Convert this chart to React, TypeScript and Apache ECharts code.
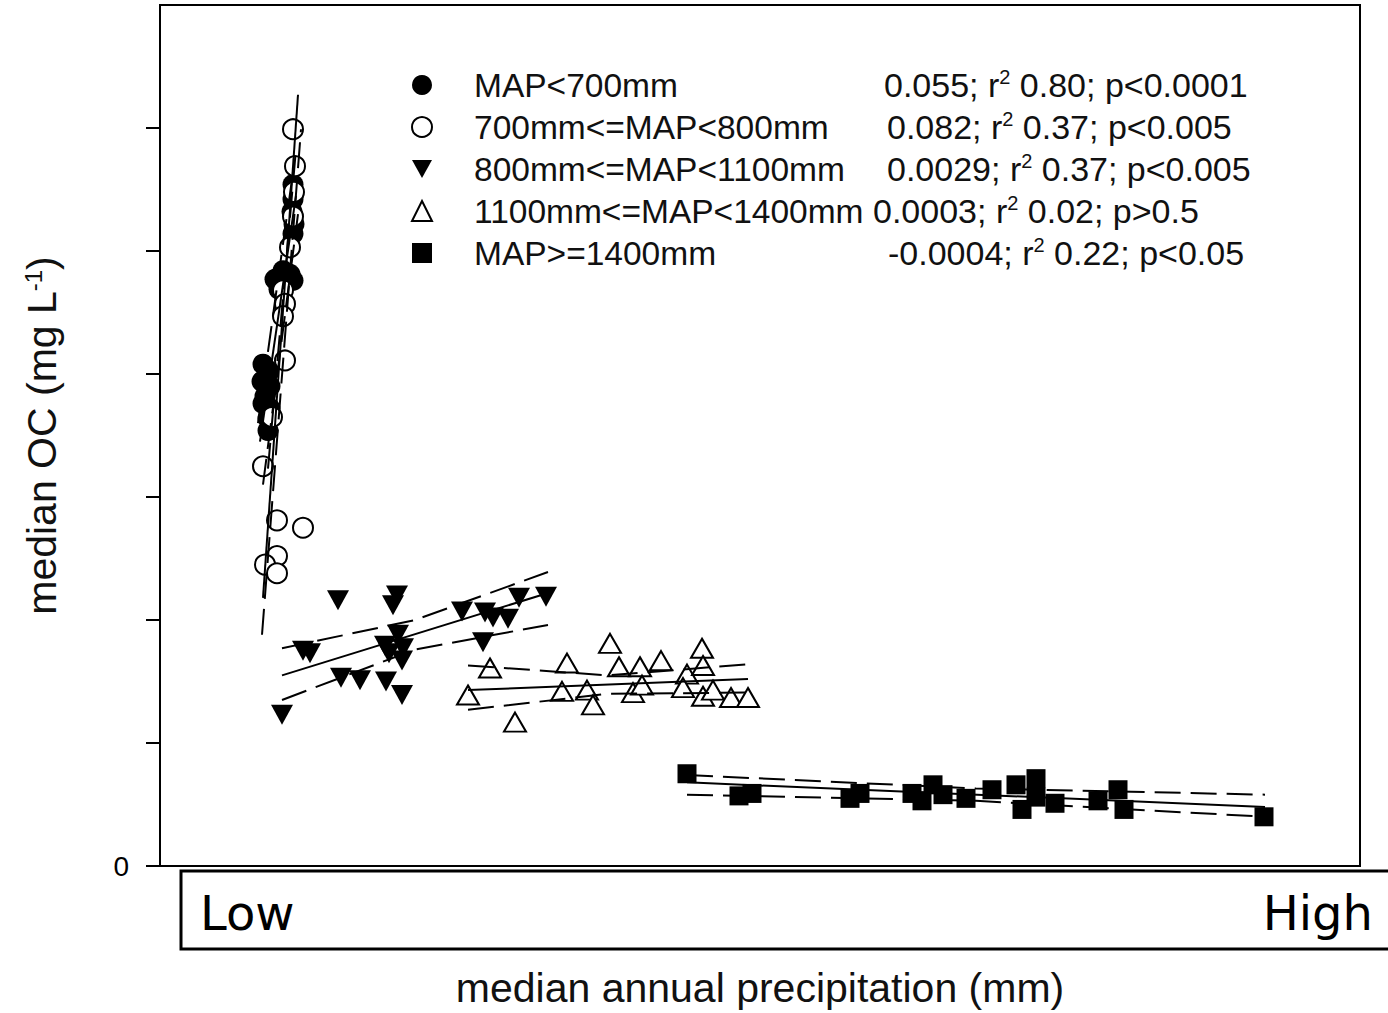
import React, { useEffect, useRef } from 'react';
import * as echarts from 'echarts';

// x: relative position on the (unlabelled) precipitation axis, 0 = Low ... 1200 = High
// y: median OC (tick units)
const mapLt700: number[][] = [
  [133, 5.54], [133, 5.42], [132, 5.32], [134, 5.22], [133, 5.14],
  [115, 4.77], [123, 4.84], [130, 4.81], [133, 4.76], [119, 4.69],
  [103, 4.08], [108, 4.03], [102, 3.94], [110, 3.9], [105, 3.82],
  [103, 3.76], [110, 3.72], [108, 3.64], [108, 3.54],
];
const map700to800: number[][] = [
  [133, 5.99], [135, 5.69], [134, 5.48], [133, 5.28], [130, 5.03],
  [123, 4.68], [125, 4.57], [123, 4.47], [125, 4.11], [112, 3.65],
  [103, 3.25], [117, 2.81], [143, 2.75], [117, 2.52], [105, 2.45], [117, 2.38],
];
const map800to1100: number[][] = [
  [122, 1.23], [178, 2.16], [237, 2.2], [233, 2.12], [143, 1.75], [150, 1.73],
  [181, 1.53], [200, 1.51], [226, 1.5], [242, 1.39], [225, 1.79], [238, 1.88],
  [243, 1.77], [242, 1.67], [229, 1.73], [302, 2.07], [325, 2.06], [333, 2.02],
  [348, 2.01], [359, 2.18], [386, 2.19], [323, 1.82],
];
const map1100to1400: number[][] = [
  [330, 1.61], [308, 1.39], [355, 1.17], [407, 1.65], [402, 1.42], [427, 1.43],
  [433, 1.31], [450, 1.81], [459, 1.62], [480, 1.62], [501, 1.67], [473, 1.41],
  [482, 1.47], [527, 1.56], [523, 1.45], [542, 1.77], [543, 1.63], [543, 1.38],
  [553, 1.43], [571, 1.37], [588, 1.37],
];
const mapGe1400: number[][] = [
  [527, 0.75], [579, 0.57], [592, 0.59], [690, 0.55], [700, 0.59], [752, 0.59],
  [762, 0.53], [773, 0.66], [783, 0.58], [806, 0.55], [832, 0.62], [856, 0.66],
  [862, 0.46], [876, 0.71], [876, 0.56], [895, 0.51], [938, 0.53], [958, 0.62],
  [964, 0.46], [1104, 0.4],
];

// regression lines (solid) and 95% confidence bands (dashed)
const fitLines: { data: number[][]; dashed: boolean }[] = [
  { data: [[100, 3.45], [136, 5.45]], dashed: false },
  { data: [[98, 3.6], [134, 5.7]], dashed: true },
  { data: [[103, 3.1], [138, 5.3]], dashed: true },
  { data: [[103, 2.18], [138, 6.27]], dashed: false },
  { data: [[102, 1.88], [141, 5.99]], dashed: true },
  { data: [[108, 3.23], [136, 5.83]], dashed: true },
  { data: [[122, 1.55], [388, 2.22]], dashed: false },
  { data: [[122, 1.77], [255, 2.0], [388, 2.39]], dashed: true },
  { data: [[122, 1.35], [255, 1.76], [388, 1.96]], dashed: true },
  { data: [[308, 1.43], [588, 1.52]], dashed: false },
  { data: [[308, 1.63], [448, 1.55], [588, 1.64]], dashed: true },
  { data: [[308, 1.27], [448, 1.4], [588, 1.41]], dashed: true },
  { data: [[527, 0.68], [1105, 0.48]], dashed: false },
  { data: [[527, 0.74], [816, 0.63], [1105, 0.58]], dashed: true },
  { data: [[527, 0.58], [816, 0.53], [1105, 0.4]], dashed: true },
];

const seriesNames: string[] = [
  'MAP<700mm',
  '700mm<=MAP<800mm',
  '800mm<=MAP<1100mm',
  '1100mm<=MAP<1400mm',
  'MAP>=1400mm',
];
const statTexts: string[] = [
  '0.055; r{s|2} 0.80; p<0.0001',
  '0.082; r{s|2} 0.37; p<0.005',
  '0.0029; r{s|2} 0.37; p<0.005',
  '0.0003; r{s|2} 0.02; p>0.5',
  '-0.0004; r{s|2} 0.22; p<0.05',
];
const statX: number[] = [884, 887, 887, 873, 888];
const yTicks: number[] = [0, 1, 2, 3, 4, 5, 6];

const FONT = 'Liberation Sans, Arial, sans-serif';

export default function App() {
  const ref = useRef<HTMLDivElement>(null);
  useEffect(() => {
    document.body.style.margin = '0';
    const chart = echarts.init(ref.current as HTMLDivElement, null, { renderer: 'svg' });
    const rowY = [85, 127, 169, 211, 253];
    const option: any = {
      animation: false,
      backgroundColor: '#fff',
      grid: {
        left: 160, right: 28, top: 5, bottom: 144,
        show: true, borderColor: '#000', borderWidth: 2, backgroundColor: 'transparent',
      },
      xAxis: {
        type: 'value', min: 0, max: 1200,
        axisLine: { show: true, lineStyle: { color: '#000', width: 2 } },
        axisTick: { show: false }, axisLabel: { show: false }, splitLine: { show: false },
        name: 'median annual precipitation (mm)', nameLocation: 'middle', nameGap: 101,
        nameTextStyle: { fontSize: 41, fontFamily: FONT, color: '#111' },
      },
      yAxis: {
        type: 'value', min: 0, max: 7, interval: 1,
        axisLine: { show: true, lineStyle: { color: '#000', width: 2 } },
        axisTick: { show: true, inside: false, length: 14, customValues: yTicks, lineStyle: { color: '#000', width: 2 } },
        axisLabel: { show: true, customValues: [0], margin: 31, fontSize: 28, fontFamily: FONT, color: '#000' },
        splitLine: { show: false },
        name: 'median OC (mg L{s|-1})', nameLocation: 'middle', nameGap: 98,
        nameTextStyle: {
          fontSize: 41, fontFamily: FONT, color: '#111',
          rich: { s: { fontSize: 24, fontFamily: FONT, color: '#111', verticalAlign: 'top' } },
        },
      },
      legend: {
        orient: 'vertical', left: 406, top: 59, itemGap: 0, itemWidth: 20, itemHeight: 20,
        data: seriesNames,
        textStyle: { fontSize: 33.5, fontFamily: FONT, color: '#111', lineHeight: 42, padding: [0, 0, 0, 37] },
        selectedMode: false,
      },
      graphic: [
        {
          type: 'rect', shape: { x: 181, y: 871, width: 1260, height: 78 },
          style: { fill: 'none', stroke: '#000', lineWidth: 3 }, z: 20,
        },
        {
          type: 'text', x: 200, y: 913,
          style: { text: 'Low', fontSize: 48, fontFamily: 'DejaVu Sans', fill: '#000', align: 'left', verticalAlign: 'middle' },
        },
        {
          type: 'text', x: 1373, y: 913,
          style: { text: 'High', fontSize: 48, fontFamily: 'DejaVu Sans', fill: '#000', align: 'right', verticalAlign: 'middle' },
        },
        ...statTexts.map((t, i) => ({
          type: 'text', x: statX[i], y: rowY[i],
          style: {
            text: t, fontSize: 34, fontFamily: FONT, fill: '#111', align: 'left', verticalAlign: 'middle',
            rich: { s: { fontSize: 20, fontFamily: FONT, fill: '#111', verticalAlign: 'top', lineHeight: 36 } },
          },
        })),
      ],
      series: [
        {
          name: seriesNames[0], type: 'scatter', data: mapLt700, symbol: 'circle', symbolSize: 21,
          itemStyle: { color: '#000', opacity: 1 }, z: 3,
        },
        {
          name: seriesNames[1], type: 'scatter', data: map700to800, symbol: 'circle', symbolSize: 20,
          itemStyle: { color: '#fff', borderColor: '#000', borderWidth: 2, opacity: 1 }, z: 3,
        },
        {
          name: seriesNames[2], type: 'scatter', data: map800to1100, symbol: 'path://M0,0L20,0L10,18Z',
          symbolSize: [22, 20], itemStyle: { color: '#000', opacity: 1 }, z: 3,
        },
        {
          name: seriesNames[3], type: 'scatter', data: map1100to1400, symbol: 'triangle',
          symbolSize: [22, 19], itemStyle: { color: '#fff', borderColor: '#000', borderWidth: 2, opacity: 1 }, z: 3,
        },
        {
          name: seriesNames[4], type: 'scatter', data: mapGe1400, symbol: 'rect', symbolSize: 19,
          itemStyle: { color: '#000', opacity: 1 }, z: 3,
        },
        ...fitLines.map((l, i) => ({
          name: 'fit' + i, type: 'line', data: l.data, showSymbol: false, symbol: 'none', z: 4,
          lineStyle: { color: '#000', width: 2, type: l.dashed ? [26, 10] : 'solid' },
          silent: true,
        })),
      ],
    };
    chart.setOption(option);
    return () => chart.dispose();
  }, []);
  return <div ref={ref} style={{ width: 1388, height: 1013, position: 'fixed', left: 0, top: 0 }} />;
}
